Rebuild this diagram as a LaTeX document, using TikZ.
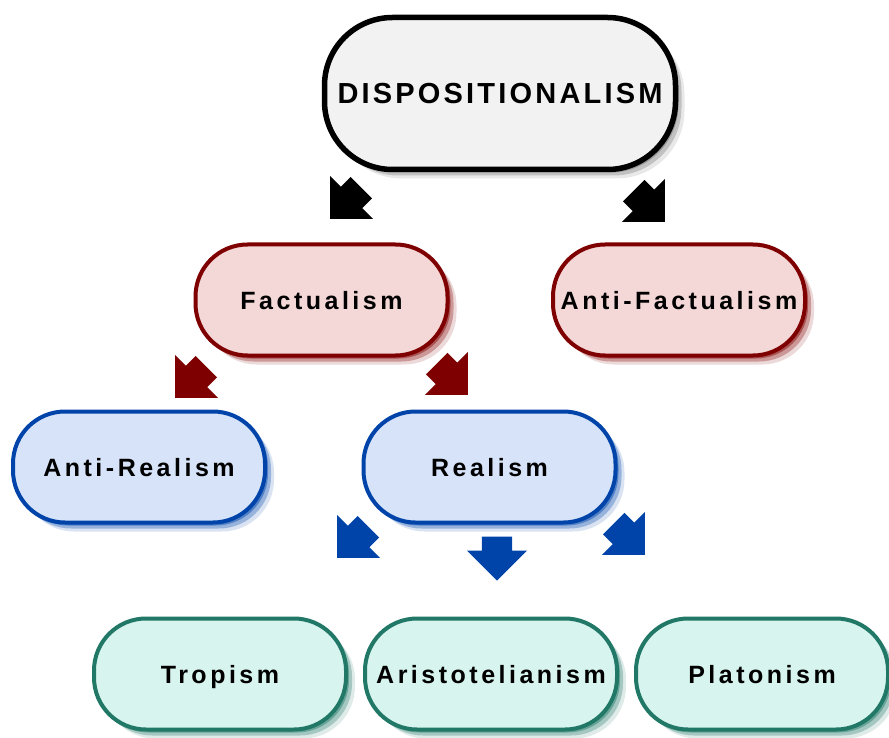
\documentclass[tikz,border=0pt]{standalone}
\usepackage{fontspec}
\setmainfont{Liberation Sans}
\newfontfamily\boxfont{Liberation Sans}[LetterSpace=14]
\newfontfamily\titlefont{Liberation Sans}[LetterSpace=11]
\usetikzlibrary{shapes.arrows,shadows}

\definecolor{dispfill}{HTML}{F2F2F2}
\definecolor{factdraw}{HTML}{7F0000}
\definecolor{factfill}{HTML}{F4D7D7}
\definecolor{realdraw}{HTML}{0044AA}
\definecolor{realfill}{HTML}{D7E3F8}
\definecolor{ismdraw}{HTML}{217867}
\definecolor{ismfill}{HTML}{D7F4EE}

\begin{document}
\begin{tikzpicture}[x=1pt, y=-1pt]
\tikzset{
  box/.style={
    draw, rectangle, rounded corners=52pt, line width=4pt,
    minimum width=252pt, minimum height=111pt,
    text height=18pt, text depth=0pt, align=center,
    font=\boxfont\bfseries\fontsize{25}{30}\selectfont
  },
  softshadow/.style={
    drop shadow={shadow xshift=3pt, shadow yshift=-3pt, fill=#1, opacity=0.45},
    drop shadow={shadow xshift=6pt, shadow yshift=-6pt, fill=#1, opacity=0.3},
    drop shadow={shadow xshift=9pt, shadow yshift=-9pt, fill=#1, opacity=0.15}
  },
  blockarrow/.style={
    single arrow, draw=none, inner xsep=0pt, inner ysep=15pt,
    text height=0pt, text depth=0pt,
    minimum height=44pt, minimum width=60pt,
    single arrow head extend=15pt, single arrow tip angle=90,
    anchor=tip
  }
}
\useasboundingbox (0,0) rectangle (889,738);

% Nodes
\node[box, softshadow=black!60, fill=dispfill, line width=5.5pt, rounded corners=68pt,
      minimum width=351pt, minimum height=152pt, text height=21pt,
      font=\titlefont\bfseries\fontsize{29}{34}\selectfont] (disp) at (500,93.5) {DISPOSITIONALISM};

\node[box, softshadow=factdraw, draw=factdraw, fill=factfill] (fact)     at (321.5,300) {Factualism};
\node[box, softshadow=factdraw, draw=factdraw, fill=factfill] (antifact) at (679,300)   {Anti-Factualism};

\node[box, softshadow=realdraw, draw=realdraw, fill=realfill] (antireal) at (139,467)   {Anti-Realism};
\node[box, softshadow=realdraw, draw=realdraw, fill=realfill] (real)     at (489.5,467) {Realism};

\node[box, softshadow=ismdraw, draw=ismdraw, fill=ismfill] (trop)  at (220,674) {Tropism};
\node[box, softshadow=ismdraw, draw=ismdraw, fill=ismfill] (arist) at (491,674) {Aristotelianism};
\node[box, softshadow=ismdraw, draw=ismdraw, fill=ismfill] (plat)  at (762,674) {Platonism};

% Block arrows between the levels
\node[blockarrow, fill=black, rotate=-135] (dispL) at (330,219) {};
\node[blockarrow, fill=black, rotate=-45]  (dispR) at (665,222) {};
\node[blockarrow, fill=factdraw, rotate=-135] (factL) at (175,398) {};
\node[blockarrow, fill=factdraw, rotate=-45]  (factR) at (468,395) {};
\node[blockarrow, fill=realdraw, rotate=-135] (realL) at (337,558) {};
\node[blockarrow, fill=realdraw, rotate=-90]  (realD) at (497,581) {};
\node[blockarrow, fill=realdraw, rotate=-45]  (realR) at (645,555) {};

\end{tikzpicture}
\end{document}
